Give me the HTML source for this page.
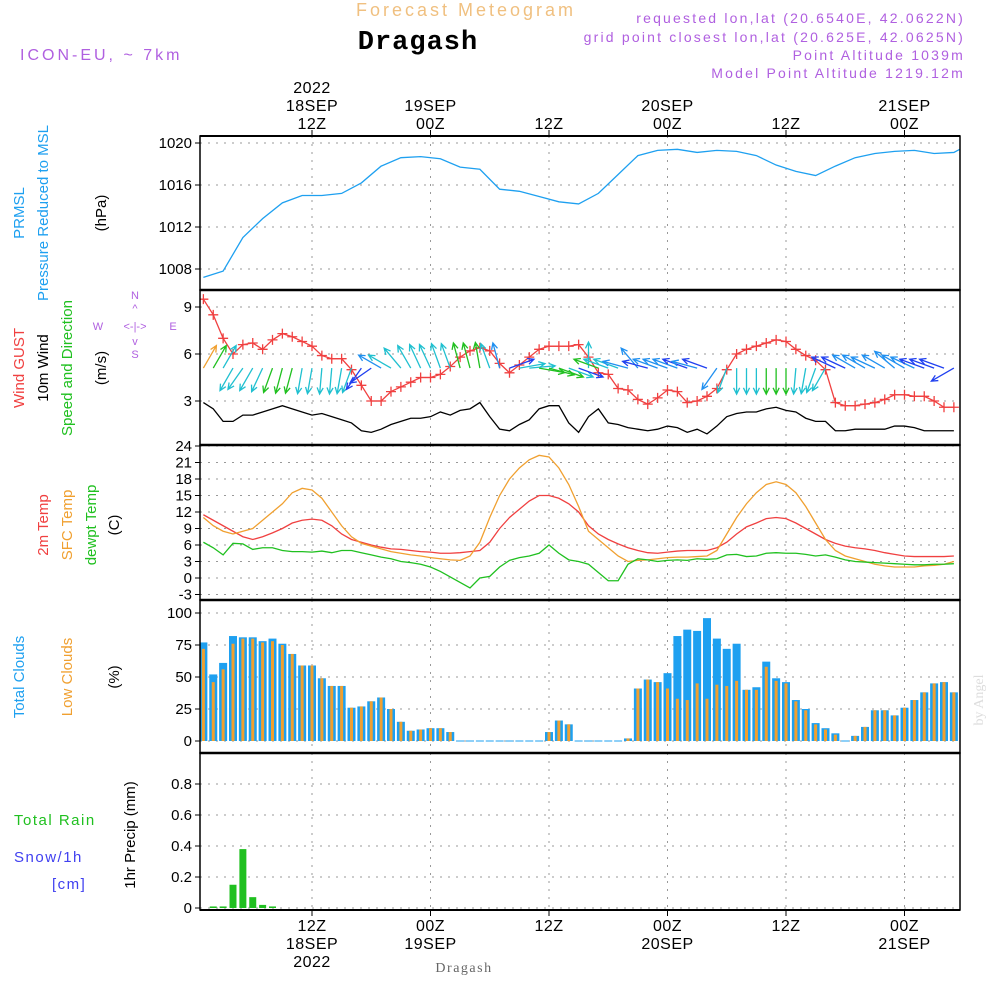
<!DOCTYPE html>
<html><head><meta charset="utf-8"><style>
body{margin:0;background:#fff}
svg{display:block;font-family:"Liberation Sans",sans-serif}
</style></head><body>
<svg id="c" width="1000" height="1000" xmlns="http://www.w3.org/2000/svg">
<defs><clipPath id="plotclip"><rect x="200" y="136" width="760" height="774"/></clipPath></defs>
<g>
<text x="466" y="16" text-anchor="middle" font-size="18" fill="#f0c080" letter-spacing="3">Forecast Meteogram</text>
<text x="418" y="49" text-anchor="middle" font-size="27" font-weight="bold" fill="#000" font-family="Liberation Mono,monospace" letter-spacing="1">Dragash</text>
<text x="20" y="60" font-size="16" fill="#b060e0" letter-spacing="3">ICON-EU, ~ 7km</text>
<g font-size="14" fill="#b060e0" text-anchor="end" letter-spacing="2.2">
<text x="965" y="23">requested lon,lat (20.6540E, 42.0622N)</text>
<text x="965" y="42">grid point closest lon,lat (20.625E, 42.0625N)</text>
<text x="965" y="60">Point Altitude 1039m</text>
<text x="965" y="78">Model Point Altitude 1219.12m</text>
</g>
</g>
<g id="grid"></g>
<g id="marks" clip-path="url(#plotclip)"></g>
<g id="axes"></g>
<g font-size="15">
<text transform="translate(24,213) rotate(-90)" text-anchor="middle" fill="#1ea0f0">PRMSL</text>
<text transform="translate(48,213) rotate(-90)" text-anchor="middle" fill="#1ea0f0">Pressure Reduced to MSL</text>
<text transform="translate(106,213) rotate(-90)" text-anchor="middle" fill="#000">(hPa)</text>
<text transform="translate(24,368) rotate(-90)" text-anchor="middle" fill="#f04040">Wind GUST</text>
<text transform="translate(48,368) rotate(-90)" text-anchor="middle" fill="#000">10m Wind</text>
<text transform="translate(72,368) rotate(-90)" text-anchor="middle" fill="#20c020">Speed and Direction</text>
<text transform="translate(106,368) rotate(-90)" text-anchor="middle" fill="#000">(m/s)</text>
<text transform="translate(48,525) rotate(-90)" text-anchor="middle" fill="#f04040">2m Temp</text>
<text transform="translate(72,525) rotate(-90)" text-anchor="middle" fill="#f0a030">SFC Temp</text>
<text transform="translate(96,525) rotate(-90)" text-anchor="middle" fill="#20c020">dewpt Temp</text>
<text transform="translate(119,525) rotate(-90)" text-anchor="middle" fill="#000">(C)</text>
<text transform="translate(24,677) rotate(-90)" text-anchor="middle" fill="#1ea0f0">Total Clouds</text>
<text transform="translate(72,677) rotate(-90)" text-anchor="middle" fill="#f0a030">Low Clouds</text>
<text transform="translate(119,677) rotate(-90)" text-anchor="middle" fill="#000">(%)</text>
<text x="14" y="825" fill="#20c020" letter-spacing="1.5">Total  Rain</text>
<text x="14" y="862" fill="#4040f0" letter-spacing="1.5">Snow/1h</text>
<text x="52" y="889" fill="#4040f0" letter-spacing="1.5">[cm]</text>
<text transform="translate(135,835) rotate(-90)" text-anchor="middle" fill="#000">1hr Precip (mm)</text>
</g>
<g fill="#b060e0" font-size="11">
<text x="135" y="299" text-anchor="middle">N</text>
<text x="135" y="330" text-anchor="middle">&lt;-|-&gt;</text>
<text x="98" y="330" text-anchor="middle">W</text>
<text x="173" y="330" text-anchor="middle">E</text>
<text x="135" y="312" text-anchor="middle">^</text>
<text x="135" y="345" text-anchor="middle">v</text>
<text x="135" y="358" text-anchor="middle">S</text>
</g>
<text transform="translate(983,700) rotate(-90)" text-anchor="middle" font-size="14" fill="#ddd" font-family="Liberation Serif,serif">by Angel</text>
<text x="464" y="972" text-anchor="middle" font-size="14" fill="#666" font-family="Liberation Serif,serif" letter-spacing="1.5">Dragash</text>
</svg>
<script>
const hours = Array.from({length:77},(_,i)=>i+1);
const pressT = [1,3,5,7,9,11,13,15,17,19,21,23,25,27,29,31,33,35,37,39,41,43,45,47,49,51,53,55,57,59,61,63,65,67,69,71,73,75,77,78];
const pressure = [1007.2,1007.8,1011.0,1012.8,1014.3,1015.0,1015.0,1015.2,1016.2,1017.8,1018.6,1018.7,1018.5,1017.7,1017.5,1015.6,1015.4,1014.9,1014.4,1014.2,1015.2,1017.0,1018.8,1019.3,1019.4,1019.1,1019.3,1019.2,1018.8,1017.9,1017.3,1016.9,1017.8,1018.6,1019.0,1019.2,1019.3,1019.0,1019.1,1019.6];
const gust = [9.5,8.5,7.0,6.0,6.6,6.7,6.3,6.9,7.3,7.1,6.8,6.5,5.9,5.7,5.7,5.0,4.0,3.0,3.0,3.6,3.9,4.2,4.5,4.5,4.7,5.2,5.8,6.2,6.4,6.2,5.4,4.8,5.3,5.8,6.3,6.5,6.5,6.5,6.6,5.8,4.8,4.7,3.8,3.7,3.1,2.8,3.2,3.7,3.6,2.9,3.0,3.3,3.8,5.0,6.0,6.3,6.5,6.7,6.9,6.8,6.3,5.9,5.6,5.0,2.9,2.7,2.7,2.8,2.9,3.1,3.4,3.4,3.3,3.3,3.0,2.6,2.6];
const wind10 = [2.9,2.5,1.7,1.7,2.1,2.1,2.3,2.5,2.7,2.5,2.3,2.1,2.2,2.0,1.8,1.6,1.1,1.0,1.2,1.5,1.7,1.9,1.9,2.0,2.3,2.1,2.4,2.5,2.9,2.0,1.2,1.1,1.5,1.8,2.5,2.7,2.7,1.6,1.0,2.0,2.5,1.6,1.5,1.3,1.2,1.1,1.2,1.4,1.3,1.0,1.2,0.9,1.4,2.0,2.2,2.3,2.3,2.5,2.6,2.4,2.3,1.9,1.7,1.7,1.1,1.1,1.2,1.2,1.2,1.2,1.4,1.4,1.3,1.1,1.1,1.1,1.1];
const windDir = [30,30,30,210,215,210,205,200,195,195,190,190,185,185,190,200,215,235,300,300,320,330,335,335,340,340,345,345,350,340,345,70,80,85,100,105,110,110,110,0,290,290,290,285,320,285,290,290,290,290,285,290,215,200,180,180,180,180,180,180,185,190,200,210,295,295,300,300,295,300,310,300,295,290,290,290,240];
const t2m = [11.5,10.5,9.5,8.5,7.5,7.0,7.5,8.2,9.0,10.0,10.5,10.7,10.5,9.5,8.0,7.0,6.5,6.0,5.6,5.3,5.2,5.0,4.8,4.7,4.5,4.5,4.6,4.8,5.0,6.5,9.0,11.0,12.5,14.0,15.0,15.0,14.5,13.5,12.0,9.5,8.0,7.0,6.2,5.5,5.0,4.6,4.5,4.7,4.9,5.0,5.0,5.0,5.5,6.5,8.0,9.3,10.0,10.8,11.0,10.8,10.0,9.0,8.0,7.0,6.3,5.8,5.5,5.3,5.0,4.6,4.3,4.0,3.9,3.9,3.9,3.9,4.0];
const sfcT = [11.0,9.5,8.5,8.0,8.5,9.0,10.5,12.0,13.5,15.5,16.3,16.0,14.5,12.0,9.5,7.5,6.3,5.8,5.3,4.8,4.5,4.2,4.0,3.7,3.5,3.3,3.2,4.0,6.5,11.0,15.0,18.0,20.0,21.5,22.3,22.0,20.0,17.0,13.0,8.5,7.0,5.5,4.0,3.0,3.2,3.3,3.5,3.7,3.8,3.8,3.9,4.0,5.0,8.0,11.0,13.5,15.5,17.0,17.5,17.0,15.5,13.0,10.0,7.0,5.0,4.0,3.5,3.0,2.5,2.2,2.0,2.0,2.0,2.2,2.3,2.5,3.0];
const dewpt = [6.5,5.5,4.2,6.3,6.2,5.2,5.5,5.5,5.0,4.8,4.8,4.7,4.9,4.6,5.0,5.0,4.6,4.2,3.8,3.5,3.0,2.8,2.5,2.0,1.2,0.2,-0.8,-1.8,0.0,0.3,2.0,3.2,3.7,4.0,4.5,6.0,4.5,3.3,3.0,2.5,1.0,-0.5,-0.5,2.5,3.5,3.3,3.0,3.2,3.3,3.2,3.5,3.4,3.5,4.2,4.3,3.9,4.0,4.5,4.6,4.5,4.5,4.3,4.0,4.2,3.8,3.3,3.0,2.9,2.8,2.7,2.6,2.5,2.4,2.4,2.5,2.5,2.6];
const totalCloud = [77,52,61,82,81,81,78,80,76,68,59,59,49,43,43,26,27,31,34,25,15,8,9,10,10,7,0,0,0,0,0,0,0,0,0,7,16,13,0,0,0,0,0,2,41,48,46,53,82,87,86,96,80,72,76,40,42,62,49,46,32,25,14,10,6,0,4,11,24,24,20,26,32,38,45,46,38];
const lowCloud = [72,46,56,76,80,80,77,78,75,68,59,59,49,43,43,26,27,31,34,25,15,8,9,10,10,7,0,0,0,0,0,0,0,0,0,7,16,13,0,0,0,0,0,2,41,48,46,41,33,32,45,33,44,43,47,40,40,58,47,45,31,24,13,9,5,0,4,11,24,24,20,26,32,38,45,46,38];
const precip = [0,0.01,0.01,0.15,0.38,0.07,0.02,0.01,0,0];
const pressTicks=[1008,1012,1016,1020], windTicks=[3,6,9], tempTicks=[-3,0,3,6,9,12,15,18,21,24], cloudTicks=[0,25,50,75,100], precipTicks=[0,0.2,0.4,0.6,0.8];
const timeTicks=[12,24,36,48,60,72];
const topLabels=[["2022\n18SEP\n12Z",12],["19SEP\n00Z",24],["12Z",36],["20SEP\n00Z",48],["12Z",60],["21SEP\n00Z",72]];
const botLabels=[["12Z\n18SEP\n2022",12],["00Z\n19SEP",24],["12Z",36],["00Z\n20SEP",48],["12Z",60],["00Z\n21SEP",72]];

const NS='http://www.w3.org/2000/svg';
const X0=200,X1=960;
const x=t=>312+(t-12)*9.875;
const lin=(v0,p0,v1,p1)=>v=>p0+(v-v0)*(p1-p0)/(v1-v0);
const yP=lin(1008,269,1020,143), yW=lin(0,448,9,307), yT=lin(0,578,24,446), yC=lin(0,741,100,613), yR=lin(0,908,0.8,784);
const panels=[[136,290,yP,pressTicks,'pressure'],[290,445,yW,windTicks,'wind'],[445,600,yT,tempTicks,'temp'],[600,753,yC,cloudTicks,'cloud'],[753,910,yR,precipTicks,'precip']];
const grid=document.getElementById('grid'),marks=document.getElementById('marks'),axes=document.getElementById('axes');
function mk(tag,at,par){const e=document.createElementNS(NS,tag);for(const k in at)e.setAttribute(k,at[k]);par.appendChild(e);return e;}

panels.forEach(([y0,y1,ys,ticks,nm])=>{
  timeTicks.forEach(t=>{const l=mk('line',{x1:x(t),x2:x(t),y1:y0,y2:y1,stroke:'#999','stroke-dasharray':'2,6'},grid);
    
    });
  ticks.forEach(v=>{const yy=ys(v);
    const l=mk('line',{x1:X0,x2:X1,y1:yy,y2:yy,stroke:'#999','stroke-dasharray':'2,6'},grid);
    
    
    mk('line',{x1:X0-5,x2:X0,y1:yy,y2:yy,stroke:'#000'},axes);
    const tx=mk('text',{x:X0-8,y:yy+5,'text-anchor':'end','font-size':15,fill:'#000'},axes);
    tx.textContent=String(v);
    
    });
  const r=mk('rect',{x:X0,y:y0,width:X1-X0,height:y1-y0,fill:'none',stroke:'#000','stroke-width':1.5},axes);
  
  
});
[290,445,600,753].forEach(yy=>mk('line',{x1:X0,x2:X1,y1:yy,y2:yy,stroke:'#000','stroke-width':2.5},axes));
mk('line',{x1:X0,x2:X1,y1:136,y2:136,stroke:'#000','stroke-width':2},axes);
mk('line',{x1:X0,x2:X1,y1:910,y2:910,stroke:'#000','stroke-width':2},axes);

function multi(lbls,yStart,nm){lbls.forEach(([s,t])=>{s.split('\n').forEach((ln,i,a)=>{
  const yy=nm==='top'?yStart-(a.length-1-i)*18:yStart+i*18;
  const tx=mk('text',{x:x(t),y:yy,'text-anchor':'middle','font-size':16,fill:'#000','letter-spacing':'0.5'},axes);
  tx.textContent=ln;
  
  });});}
multi(topLabels,129,'top');multi(botLabels,931,'bottom');
timeTicks.forEach(t=>{mk('line',{x1:x(t),x2:x(t),y1:130,y2:136,stroke:'#000'},axes);mk('line',{x1:x(t),x2:x(t),y1:910,y2:916,stroke:'#000'},axes);});

function line(ts,vals,ys,col,nm){
  const p=mk('polyline',{points:ts.map((t,i)=>x(t)+','+ys(vals[i])).join(' '),fill:'none',stroke:col,'stroke-width':1.3},marks);
  
  
}
line(pressT,pressure,yP,'#1ea0f0','pressure-line');
line(hours,wind10,yW,'#000','wind10m-line');
line(hours,gust,yW,'#f04040','gust-line');
hours.forEach((t,i)=>{const cx=x(t),cy=yW(gust[i]);
  const g=mk('path',{d:`M${cx-5} ${cy}H${cx+5}M${cx} ${cy-5}V${cy+5}`,stroke:'#f04040','stroke-width':1.3},marks);
  
  });
hours.forEach((t,i)=>{const a=windDir[i]*Math.PI/180,L=26;
  const bx=x(t),by=yW(5.1);
  const ex=bx+L*Math.sin(a),ey=by-L*Math.cos(a);
  const s=wind10[i];const col=i===0?'#f0a030':(s>=2.4?'#20c020':(s>=1.5?'#20c0d0':(s>=1.2?'#2090f0':'#2040f0')));
  const h1=a+Math.PI-0.45,h2=a+Math.PI+0.45;
  const d=`M${bx} ${by}L${ex} ${ey}M${ex+7*Math.sin(h1)} ${ey-7*Math.cos(h1)}L${ex} ${ey}L${ex+7*Math.sin(h2)} ${ey-7*Math.cos(h2)}`;
  const p=mk('path',{d,stroke:col,'stroke-width':1.3,fill:'none'},marks);
  
  });
line(hours,t2m,yT,'#f04040','t2m-line');
line(hours,sfcT,yT,'#f0a030','sfc-temp-line');
line(hours,dewpt,yT,'#20c020','dewpt-line');
hours.forEach((t,i)=>{const cx=x(t);
  if(totalCloud[i]>0){const b=mk('rect',{x:cx-4,y:yC(totalCloud[i]),width:8,height:yC(0)-yC(totalCloud[i]),fill:'#1ea0f0'},marks);
    
    }
  if(lowCloud[i]>0){const b=mk('rect',{x:cx-1.5,y:yC(lowCloud[i]),width:3,height:yC(0)-yC(lowCloud[i]),fill:'#f0a030'},marks);
    
    }
  if(totalCloud[i]===0){mk('line',{x1:cx-4,x2:cx+4,y1:yC(0),y2:yC(0),stroke:'#1ea0f0'},marks);}
});
precip.forEach((v,i)=>{if(v<=0)return;const cx=x(hours[i]);
  const b=mk('rect',{x:cx-3.5,y:yR(v),width:7,height:Math.max(1,yR(0)-yR(v)),fill:'#20c020'},marks);
  
  });
</script>
</body></html>
